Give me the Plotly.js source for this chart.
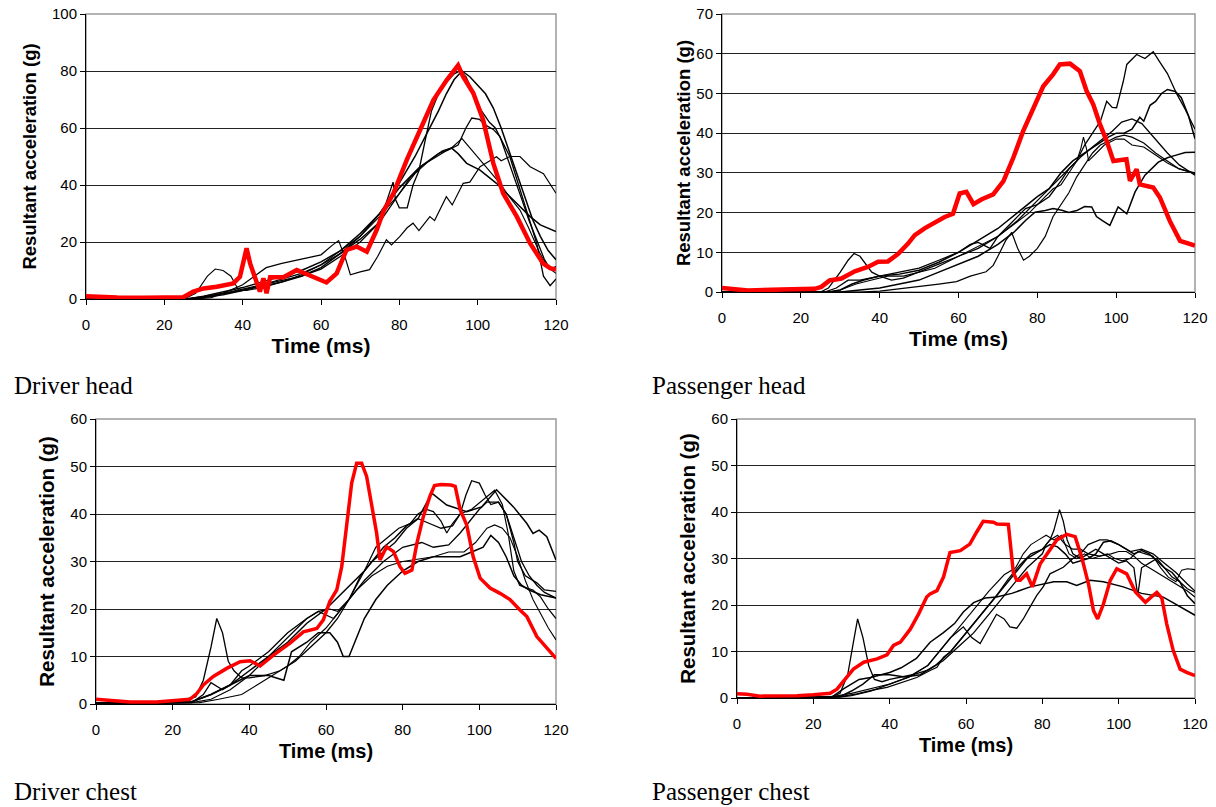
<!DOCTYPE html>
<html><head><meta charset="utf-8">
<script src="https://cdn.plot.ly/plotly-3.0.1.min.js"></script>
<style>html,body{margin:0;padding:0;background:#fff}#chart{width:1216px;height:807px}</style>
</head><body><div id="chart"></div>
<script>
// ---------- DATA (time ms, resultant acceleration g) ----------
const timeTicks = [0, 20, 40, 60, 80, 100, 120];
const captions = ['Driver head', 'Passenger head', 'Driver chest', 'Passenger chest'];

// Driver head
const dhBlack1 = [[0,0],[25,0],[30,0.8],[35,2],[40,3.5],[45,5],[50,6.5],[55,8],[60,10.5],[65,15],[70,20],[75,27],[78.4,41],[79,35],[80,32],[82,32],[83.5,40],[85,45],[86.5,55],[88.2,66],[90,72],[92,76],[94,79],[95.5,80],[97,78],[99,72],[101,66],[103,62],[104.5,60],[106,56],[108.2,50],[110,42],[111.7,34.6],[113.5,26],[115.1,19.4],[116.8,8],[118.5,4.7],[120,7]];
const dhBlack2 = [[0,0],[27,0],[30,0.5],[35,1.5],[40,3],[45,4.5],[50,6],[55,8],[60,11],[65,16],[70,22],[75,30],[78,36],[81,43],[84,50],[87,58],[90,66],[92,72],[94,77],[96,80],[98,78],[100,75],[102,72],[104,67],[106,60],[108,52],[110,44],[112,36],[114,28],[116,22],[118,17],[120,13.8]];
const dhBlack3 = [[0,0],[28,0],[31,1],[35,2],[40,3],[45,5],[50,7],[55,9],[60,12],[65,16],[70,21],[75,27],[80,37],[83,43],[86,47],[89,49.5],[92,52],[95,54],[97,60],[98.5,63.5],[100.5,63],[102,61],[104,59.5],[105.7,57],[107,52],[109,44],[111,36],[113,28],[115,21],[117,14],[118.5,10.5],[120,11.4]];
const dhBlack4 = [[0,0],[25,0],[28,2],[31,8],[33,10.5],[35,10],[37,8],[39,3],[41,3],[45,4],[50,6],[55,8.5],[60,12],[65,17],[70,22],[75,29],[80,37],[84,44],[88,49],[91,52],[93.3,53],[96,56.3],[98,53],[100.6,48.7],[103,45],[105.7,40.6],[108,36],[110.8,31.2],[113,25],[115.9,16],[118,11],[120,9]];
const dhBlack5 = [[0,0],[26,0],[30,1],[35,2.5],[40,4],[45,6],[50,8],[55,10],[60,13],[65,17],[70,23],[75,30],[80,39],[85,46],[88,49],[90,51],[93.3,53],[95,51],[97.2,47.6],[100.6,45.2],[104.8,40.6],[109.1,34.7],[113.4,28.9],[116,26],[120,23.7]];
const dhBlack6 = [[0,0],[28,0],[32,0.5],[35,2],[40,5],[43,8],[46,11],[50,12.5],[55,14],[60,15.5],[63,19],[64.5,20.5],[66.3,14],[67.5,8.5],[70,9.5],[72.4,10.3],[74.5,15],[76.7,20.8],[78,19],[80.1,21.9],[82,25],[83.5,26.6],[85,24],[87.8,28.9],[89,27.5],[90.5,32],[92,35.9],[93.5,33],[96.3,40.6],[98,41],[100.6,46.4],[102.5,48],[104.8,49.9],[106,48.5],[108.2,50],[110.8,50],[113.4,46.4],[116.8,44],[120,37.1]];
const dhRed = [[0,1],[3,0.8],[8,0.5],[15,0.4],[20,0.4],[24.8,0.6],[27.4,2.6],[30,3.7],[33.4,4.3],[37.6,5.5],[39.3,7.8],[41,17.8],[41.9,12.5],[43.6,5.5],[44.4,2.6],[45.3,7.3],[46.1,2],[47,7.6],[50.4,7.6],[53.8,10.2],[57.2,8.4],[61.4,5.8],[64,9],[66.5,17.2],[69.1,18.4],[71.7,16.6],[74.2,24.2],[76,31],[78.5,37.1],[81.9,48.8],[85.3,59.3],[88.7,69.8],[92.1,76.8],[94.2,80.9],[95,82],[96.3,78],[98.9,72.2],[101.4,62.8],[104,47.6],[106.5,37.1],[110,28.9],[113.4,19.5],[116.7,12.5],[118.5,10.8],[120,10.3]];

// Passenger head
const phBlack1 = [[0,0],[26,0],[29,1],[32,3],[35,3],[40,4],[45,5],[50,6],[55,8],[60,10],[63,12],[65,12.5],[68,11],[70,14],[73,17],[75,19],[77,21],[80,22],[83,24],[86,28],[88,31],[90,33],[92,37],[94,40],[96,43],[97.6,48],[99,46.5],[100.1,46.4],[101.8,53],[102.7,57.3],[105.2,59.8],[107.3,58.8],[109.4,60.5],[111,58],[113,55],[115.3,50],[117.5,46],[120,41]];
const phBlack2 = [[0,0],[27,0],[30,0.5],[33,2],[36,3],[40,4],[45,4.5],[50,5.5],[55,7.5],[60,10],[65,13],[70,16],[75,20],[80,24],[83,26],[86,30],[89,33],[92,35],[95,37],[98,39],[100,40],[102,40],[104,41],[106,44],[107,43],[108.6,47],[110,48],[111.5,50],[113,51],[115,50.5],[116.5,49],[118.3,44.5],[120,38.6]];
const phBlack3 = [[0,0],[25,0],[27,1],[30,5],[32,8],[33.5,9.7],[35,9],[36.5,7],[38,5],[40,4],[43,3],[46,3.5],[50,5],[55,7],[60,9],[65,11],[70,14],[75,18],[80,23],[84,27],[88,31],[91,34],[94,36.5],[97,39],[99,40.5],[101.4,42.8],[104,43.6],[106.5,42.4],[109.9,38.6],[113,35],[116,32],[120,29.4]];
const phBlack4 = [[0,0],[27,0],[30,0.5],[34,2],[38,3],[42,4],[46,4],[50,5],[54,6],[58,8],[62,10],[66,12],[70,14],[74,17],[78,20],[81,23],[84,26],[86,27],[88,30],[90,33],[91,36],[91.7,39],[92.5,36],[93,33],[95,35],[97,37],[100,38.5],[102,38.5],[104,37],[107,36.5],[110,34.5],[113,32.5],[116,31],[120,29.8]];
const phBlack5 = [[0,0],[30,0],[35,0.5],[40,1],[45,2],[50,3],[55,5],[60,7],[65,9],[70,12],[74,15],[77,18],[79.4,20.1],[82,20.5],[84,21],[86.2,20.6],[88,20],[90,20.5],[92,21.5],[93.8,21.4],[95,19],[96.5,18],[98.4,16.8],[100.5,21.4],[102.7,19.7],[104.8,25.2],[107.3,29.4],[110.7,32.7],[113,33.8],[115,34.4],[117.5,35.1],[120,35.2]];
const phBlack6 = [[0,0],[35,0],[40,0.2],[46,0.9],[50,1.3],[55,2],[59.5,2.6],[63,4],[67,5.1],[68.8,6.7],[70,9],[72,13],[73.5,15],[75,11],[76.5,8],[78,9],[80,11],[82,14],[84,19],[86,22],[88,25],[90,29],[92,32],[94,35],[96,37],[98,38],[100,39],[102,39.5],[104,39],[107,37.5],[110,35],[113,33],[116,31],[120,30]];
const phRed = [[0,1],[3.2,0.8],[6.6,0.4],[15,0.6],[23.5,0.8],[25.2,1.3],[27.3,2.9],[30.3,3.4],[33.7,5.2],[37,6.3],[39.6,7.6],[42.1,7.7],[44.7,9.6],[47.2,12.2],[48.9,14.3],[51.5,16.1],[54,17.6],[56.5,18.9],[58.6,19.7],[60.3,24.8],[62,25.2],[63.8,22.1],[65.8,23.3],[68.8,24.6],[71.4,27.9],[73.9,33.8],[76.4,40.5],[79,46.4],[81.5,51.8],[84,54.8],[85.7,57.3],[88.3,57.5],[90.8,55.6],[92.5,50.6],[94.2,47.2],[95.9,42.2],[97.6,38],[99.3,33],[101,33.1],[102.6,33.4],[103.5,28],[105.2,30.9],[106,27.1],[109.4,26.3],[111.1,23.8],[113.6,17.9],[116.2,12.9],[118.3,12.2],[120,11.7]];

// Driver chest
const dcBlack1 = [[0,0.3],[20,0.5],[26,1.5],[28,5],[30,12],[31.5,18],[33,15],[34.5,9],[36,7],[38,5.5],[40,5.5],[44,6],[48,7],[52,9],[56,12],[60,15],[63,18],[66,22],[69,27],[72,30],[75,32],[78,34],[81,37],[84,39],[87,38],[90,37],[93,37.5],[95,40],[96.5,44],[98,47],[100,46.5],[101.5,44],[103,42],[105,42.5],[107,40],[109,35],[111,30],[113,27],[115,25],[117,23.5],[120,22.3]];
const dcBlack2 = [[0,0],[25,0.5],[30,2],[35,4],[40,7],[45,10],[50,13],[55,17],[60,20],[65,24],[70,28],[75,33],[78,35],[81,37.5],[84,39],[87.6,44.4],[91.5,41.9],[96.7,40.5],[100.6,41.5],[104.5,45.1],[108.9,41.5],[112.4,38],[114,35.9],[115.6,36.6],[117.6,35.2],[120,30.3]];
const dcBlack3 = [[0,0],[25,0.3],[28,2],[30,4.5],[33,3],[35,4],[38,7],[40,8],[45,11],[50,15],[55,18],[58,19.5],[62,18],[66,22],[70,26],[75,30],[80,33],[85,34],[88,33],[92,33.5],[95,36],[98,39],[100,41],[102,42.5],[105,42.5],[107,40],[109,34],[110,30],[112,27],[115,25.5],[117,24],[120,23.7]];
const dcBlack4 = [[0,0],[27,0.3],[32,1],[38,2],[42,4],[46,6],[50,8],[53,10],[56,13],[60,16],[64,20],[68,24],[72,27],[76,29],[80,30],[84,30.5],[88,31],[92,32],[96,32],[99,34],[102,37],[104,37.7],[106,37],[108,35],[110,31],[112,26],[114,22],[116,19],[118,16],[120,13.5]];
const dcBlack5 = [[0,0],[25,0.5],[30,2],[35,4],[40,6],[45,6],[49,5],[51,11],[55,13],[58,15],[61,15],[63,13],[64.5,10],[66,10],[68,14],[70,18],[73,22],[76,25],[80,28],[84,30],[88,31],[92,31],[95,31],[98,32],[101,33],[103,35.5],[105,34],[107,31],[109,27],[111,25],[113,24],[116,23],[120,22.3]];
const dcBlack6 = [[0,0],[25,0.3],[30,1],[35,3],[40,6],[45,10],[50,14],[55,18],[58,19.5],[61,20],[63,19.5],[66,22],[70,28],[73,33],[76,35],[79,37],[82,38],[84,40],[86,41],[88,40.5],[90,38.5],[91.5,36],[93,38],[95,40],[98,41],[101,43],[104,45],[106,42],[107.5,36],[109,28],[110.5,25],[112,24.5],[114,24],[116,22.5],[118,20],[120,18]];
const dcRed = [[0,1],[3.7,0.8],[8.9,0.4],[15.8,0.4],[21,0.7],[24.5,1],[26.3,2.2],[28,4],[30.6,5.8],[34.1,7.5],[37.6,8.9],[40.2,9.1],[42.8,8],[46.3,10.3],[50.6,12.8],[54.1,15.2],[57.6,15.9],[59.3,17.7],[61,21.6],[62.8,24],[64.1,28.9],[65.4,37.4],[66.7,46.5],[68,50.7],[69.3,50.7],[70.6,47.9],[71.9,41.6],[73.2,36],[74.1,30.3],[75.8,33.1],[77.6,32.1],[79.3,28.9],[80.6,27.5],[82.4,28.2],[83.7,33.8],[85.4,39.5],[87.1,43.7],[88.3,46],[90,46.2],[92.6,46.1],[93.7,45.8],[95,40.9],[96.7,37.7],[98.4,31],[100.2,26.5],[102.8,24.4],[105.4,23.3],[108,22],[110.6,19.8],[112.4,18.4],[115,14.2],[117.6,11.7],[120,9.6]];

// Passenger chest
const pcBlack1 = [[0,0],[25,0.3],[27,1],[29,5],[30.5,12],[31.6,17],[33,13],[34.5,7],[36,4],[38,3.5],[40,4],[43,4.5],[46,5],[50,6],[54,8],[58,11],[62,14],[66,18],[70,22],[73,25],[76,28],[78,29.5],[80,31],[81,33],[82,34],[83,36],[84.5,40.5],[85.5,38],[86.5,34],[88,31],[90,30],[92,31],[94,32],[96,31],[98,30],[100,29],[102,29.5],[104,28],[105,22],[106,28],[108,29],[110,30],[112,28],[114,26],[116,25],[118,23.5],[120,22.7]];
const pcBlack2 = [[0,0],[25,0.3],[28,2],[30,3],[32,4],[35,4.4],[40,5.5],[43,6.5],[47,8.5],[50.6,12],[54,14],[57,16],[59.3,18.5],[62,20.5],[65,21.5],[68,21.7],[72,22.5],[76.8,23.9],[80,24.5],[83,25],[86.4,25],[89,24.2],[92.5,25.3],[96,25],[101.2,23.9],[106,22.5],[111.7,21.7],[116,19.6],[120,17.8]];
const pcBlack3 = [[0,0],[27,0.2],[30,0.5],[35,1.5],[40,3],[45,4.5],[50,7],[53,10],[56,13],[59.3,15.3],[61.5,13],[63.7,11.7],[66,15],[68,18],[70,17],[71.5,15.3],[73.3,15],[75,17],[76.8,19.6],[78.5,22],[80.3,24],[82,26.7],[85.5,28.1],[88,30],[90,31],[92,33],[95,34],[97,34],[100,33],[103,31.5],[106,32],[109,31],[112,29],[115,27],[118,24.5],[120,23]];
const pcBlack4 = [[0,0],[25,0.3],[30,1],[35,2],[40,3],[45,4.5],[50,7],[54,11],[58,15],[62,19],[66,23],[70,26.5],[73,28],[75,31],[77,33],[79,34],[81,35],[83,34],[85,35],[87,31],[89,30],[91,31],[93,30],[95,30.5],[97,31],[99,30],[101,29.5],[103,30],[105,31.5],[107,31],[109,30.5],[111,28],[113,26],[115,25],[116.5,27.5],[118,27.8],[120,27.6]];
const pcBlack5 = [[0,0],[27,0.3],[30,1.5],[33,3],[36,5],[40,5],[44,4.5],[48,5],[52,7],[56,10],[60,14],[64,18],[68,22],[71,25],[74,28],[76,30],[78,31],[80,32],[82,33],[84,32.5],[86,31],[88,29],[90,29.5],[92,30],[94,31],[96,33.5],[98,33.8],[100,33],[102,32],[104,31],[106,31.7],[108,31],[110,29.5],[112,28],[114,27],[116,25],[118,22],[120,20.3]];
const pcBlack6 = [[0,0],[27,0.3],[31.4,0.9],[34.9,1.6],[39.3,2.3],[43.6,3.4],[47.1,4.4],[50.6,5.9],[52.4,6.6],[54.1,8.8],[56,10],[60,14],[64,18],[68,22],[71,25.5],[74,28.5],[77,31],[80,32],[82,34],[84,35],[86,33],[88,32],[90,32],[92,31],[95,30.5],[98,31],[100,31.5],[102,31.5],[104,30.5],[106,29],[108,28],[110,27],[112,26],[114,25],[116,24],[118,23],[120,21.7]];
const pcRed = [[0,0.9],[2.6,0.8],[6.1,0.4],[11.3,0.4],[15.7,0.5],[20,0.7],[24.4,1],[26.2,1.9],[27.9,3.6],[30.5,6.2],[33.2,7.7],[36.7,8.4],[39.3,9.3],[41,11.3],[42.8,12],[45.4,14.8],[47.6,18.1],[49.7,21.7],[50.6,22.4],[52.4,23.1],[54.1,26],[55.8,31.3],[58.5,31.7],[61,33.1],[62.8,35.7],[64.5,38],[67.2,37.8],[68.1,37.4],[71.1,37.3],[72.4,27],[73.3,25.3],[74.2,25.3],[75.9,26.7],[77.4,23.9],[79.4,28.8],[81.6,31.5],[83.8,34],[86.4,35.2],[88.6,34.7],[90.3,30.3],[92.1,24.5],[93.4,18.8],[94.5,17],[96,20.2],[97.8,25.3],[99.5,27.8],[102.1,26.7],[104.4,22.8],[107,20.6],[108.5,21.7],[110,22.7],[111.3,21.5],[112.6,15.9],[114.3,10.2],[116.1,6.2],[117.8,5.5],[120,4.8]];

// ---------- PANELS ----------
const W = 1216, H = 807;
const panelSeries = [
  {black: [dhBlack1, dhBlack2, dhBlack3, dhBlack4, dhBlack5, dhBlack6], red: dhRed},
  {black: [phBlack1, phBlack2, phBlack3, phBlack4, phBlack5, phBlack6], red: phRed},
  {black: [dcBlack1, dcBlack2, dcBlack3, dcBlack4, dcBlack5, dcBlack6], red: dcRed},
  {black: [pcBlack1, pcBlack2, pcBlack3, pcBlack4, pcBlack5, pcBlack6], red: pcRed}
];
const yMax = [100, 70, 60, 60];
const yStep = [20, 10, 10, 10];

// layout geometry (pixels): left, right, top, bottom of plot area
const boxes = [[86,556,14,299],[722,1195,14,292],[96,556,419,704],[737,1195,419,698]];
const captionPos = [[12,385],[650,385],[12,791],[650,791]];
const blackWidths = [1.3, 1.5, 1.3, 1.1, 1.5, 1.2];
const redWidths = [4.5, 4.5, 3.5, 3.5];
const yTitleSize = [18.5, 18.5, 20.5, 20.5];
const yTitleStandoff = [10, 0, 10, 10];
const xTitleSize = [21, 21, 20, 20];
const FONT = 'Arial, "Liberation Sans", sans-serif';

const traces = [];
const layout = {
  width: W, height: H, margin: {l:0, r:0, t:0, b:0},
  paper_bgcolor: '#fff', plot_bgcolor: '#fff', showlegend: false,
  font: {family: FONT, color: '#000'},
  annotations: [], shapes: []
};

panelSeries.forEach((p, i) => {
  const n = i === 0 ? '' : String(i + 1);
  const xa = 'x' + n, ya = 'y' + n;
  p.black.forEach((s, k) => {
    traces.push({type: 'scatter', mode: 'lines', xaxis: xa, yaxis: ya,
      x: s.map(d => d[0]), y: s.map(d => d[1]),
      line: {color: '#000', width: blackWidths[k]}, hoverinfo: 'skip'});
  });
  traces.push({type: 'scatter', mode: 'lines', xaxis: xa, yaxis: ya,
    x: p.red.map(d => d[0]), y: p.red.map(d => d[1]),
    line: {color: '#ff0000', width: redWidths[i]}, hoverinfo: 'skip'});

  const b = boxes[i];
  const yTicks = [];
  for (let v = 0; v <= yMax[i]; v += yStep[i]) yTicks.push(v);
  layout['xaxis' + n] = {
    domain: [b[0] / W, b[1] / W], anchor: ya, range: [0, 120],
    tickvals: timeTicks, ticktext: timeTicks.map(String),
    ticks: 'outside', ticklen: 5, tickcolor: '#000', tickwidth: 1,
    ticklabelstandoff: 7,
    showline: true, linecolor: '#000', linewidth: 1,
    showgrid: false, zeroline: false, fixedrange: true,
    tickfont: {family: FONT, size: 15, color: '#000'},
    title: {text: 'Time (ms)', standoff: 6, font: {family: FONT, size: xTitleSize[i], weight: 'bold', color: '#000'}},
    automargin: false
  };
  layout['yaxis' + n] = {
    domain: [1 - b[3] / H, 1 - b[2] / H], anchor: xa, range: [0, yMax[i]],
    tickvals: yTicks, ticktext: yTicks.map(String),
    ticks: 'outside', ticklen: 5, tickcolor: '#000', tickwidth: 1,
    showline: true, linecolor: '#000', linewidth: 1,
    showgrid: true, gridcolor: '#222', gridwidth: 1, zeroline: false, fixedrange: true,
    tickfont: {family: FONT, size: 15, color: '#000'},
    title: {text: 'Resultant acceleration (g)', standoff: yTitleStandoff[i], font: {family: FONT, size: yTitleSize[i], weight: 'bold', color: '#000'}},
    automargin: false
  };
  layout.shapes.push({type: 'rect', xref: xa + ' domain', yref: ya + ' domain',
    x0: 0, x1: 1, y0: 0, y1: 1, line: {color: '#9a9a9a', width: 1.5}, layer: 'below'});
  const c = captionPos[i];
  layout.annotations.push({text: captions[i], xref: 'paper', yref: 'paper',
    x: c[0] / W, y: 1 - c[1] / H, xanchor: 'left', yanchor: 'middle', showarrow: false,
    font: {family: '"Times New Roman", "Liberation Serif", serif', size: 25, color: '#000'}});
});

Plotly.newPlot('chart', traces, layout, {staticPlot: true, displayModeBar: false});
</script>
</body></html>
